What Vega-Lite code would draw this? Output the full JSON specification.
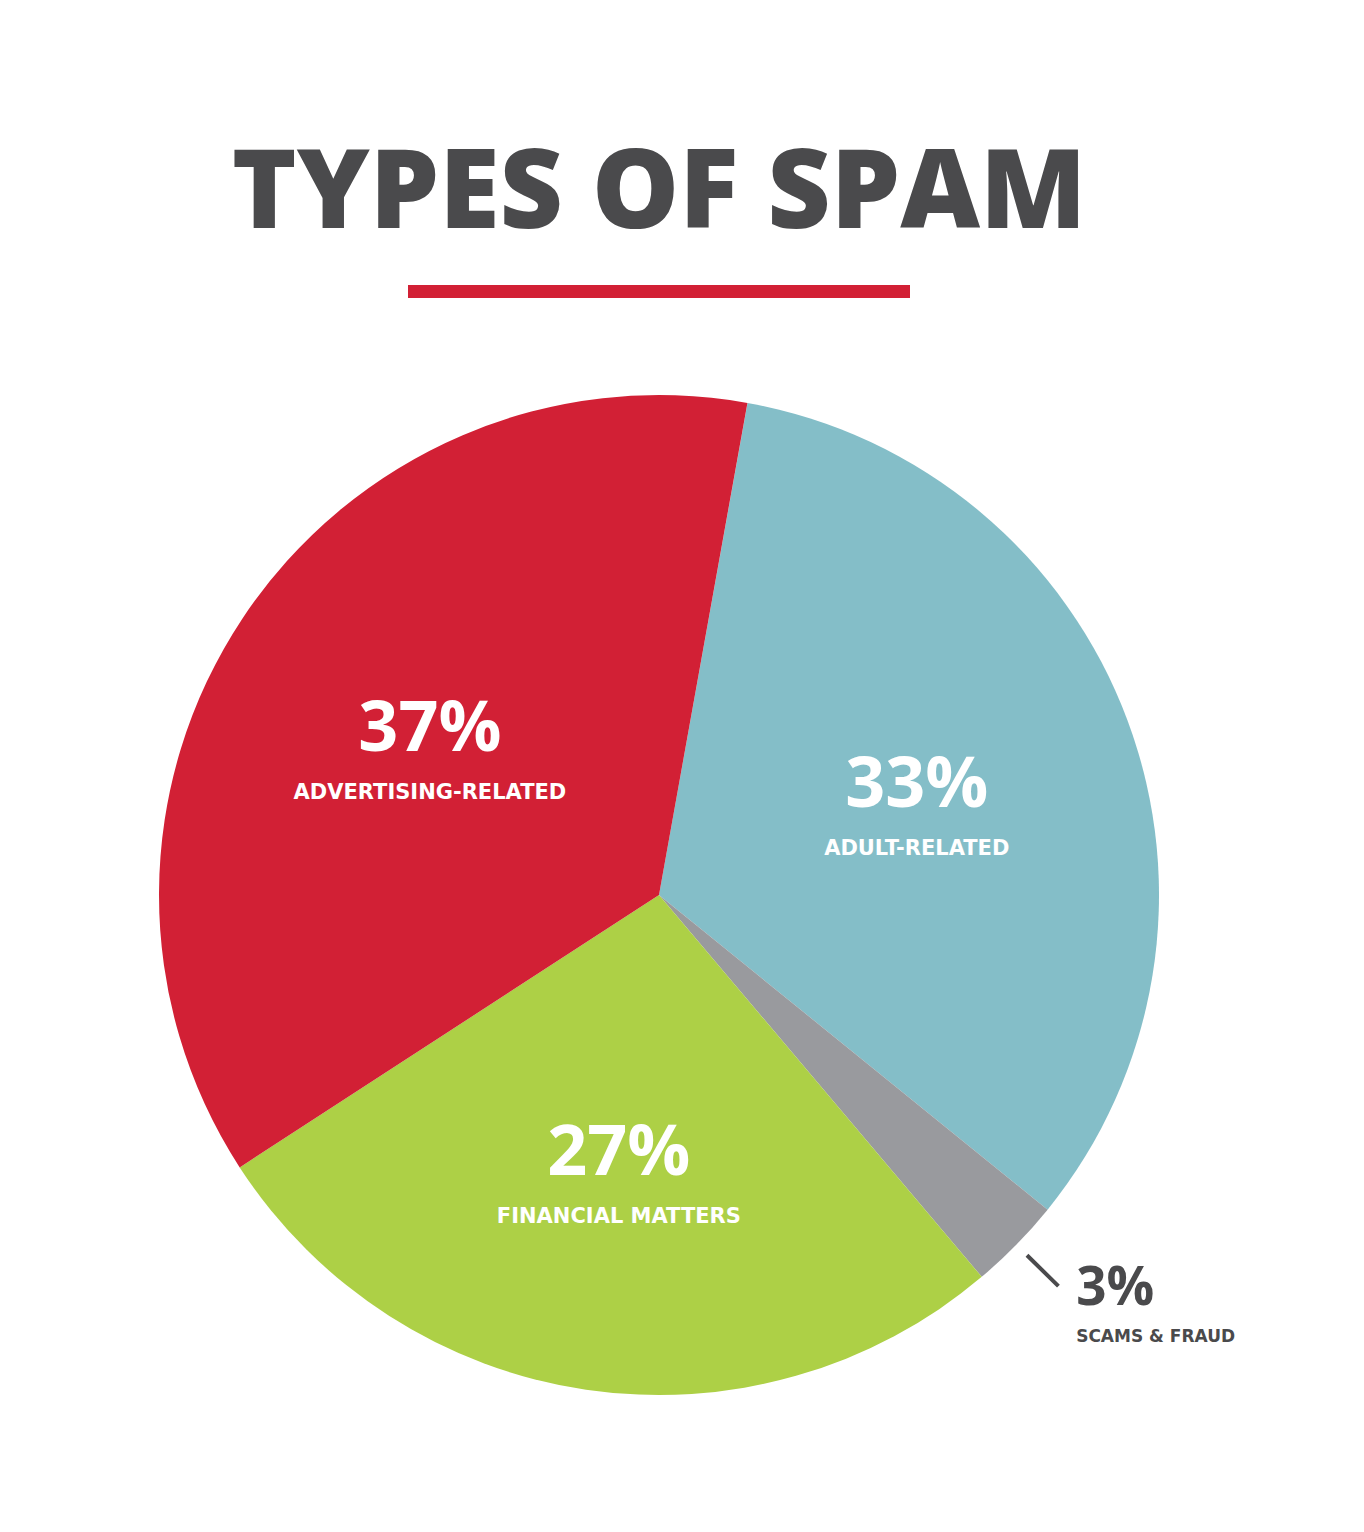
{
  "$schema": "https://vega.github.io/schema/vega-lite/v6.json",
  "width": 1318,
  "height": 1276,
  "padding": {"left": 0, "top": 140, "right": 46, "bottom": 0},
  "background": "white",
  "title": {
    "text": "TYPES OF SPAM",
    "font": "Open Sans",
    "fontSize": 110,
    "fontWeight": 800,
    "color": "#4a4a4c",
    "anchor": "middle",
    "offset": 6
  },
  "config": {"view": {"stroke": null}},
  "data": {
    "values": [
      {"cat": "ADULT-RELATED", "pct": "33%", "value": 33, "ord": 1},
      {"cat": "SCAMS & FRAUD", "pct": "3%", "value": 3, "ord": 2},
      {"cat": "FINANCIAL MATTERS", "pct": "27%", "value": 27, "ord": 3},
      {"cat": "ADVERTISING-RELATED", "pct": "37%", "value": 37, "ord": 4}
    ]
  },
  "layer": [
    {
      "mark": {"type": "arc", "outerRadius": 500},
      "encoding": {
        "theta": {"field": "value", "type": "quantitative", "stack": true, "scale": {"domain": [0, 100], "range": [0.178, 6.461]}},
        "order": {"field": "ord", "type": "quantitative"},
        "detail": {"field": "cat", "type": "nominal"},
        "color": {
          "field": "cat",
          "type": "nominal",
          "scale": {
            "domain": ["ADULT-RELATED", "SCAMS & FRAUD", "FINANCIAL MATTERS", "ADVERTISING-RELATED"],
            "range": ["#84bec8", "#999a9e", "#add046", "#d22035"]
          },
          "legend": null
        }
      }
    },
    {
      "mark": {"type": "text", "radius": 275, "dy": -13, "baseline": "middle", "align": "center", "font": "Open Sans", "fontSize": 70, "fontWeight": "bold", "fill": "white"},
      "encoding": {
        "theta": {"field": "value", "type": "quantitative", "stack": true},
        "order": {"field": "ord", "type": "quantitative"},
        "detail": {"field": "cat", "type": "nominal"},
        "text": {"condition": {"test": "datum.cat === 'SCAMS & FRAUD'", "value": ""}, "field": "pct", "type": "nominal"}
      }
    },
    {
      "mark": {"type": "text", "radius": 275, "dy": 50, "baseline": "middle", "align": "center", "font": "DejaVu Sans", "fontSize": 21, "fontWeight": "bold", "fill": "white"},
      "encoding": {
        "theta": {"field": "value", "type": "quantitative", "stack": true},
        "order": {"field": "ord", "type": "quantitative"},
        "detail": {"field": "cat", "type": "nominal"},
        "text": {"condition": {"test": "datum.cat === 'SCAMS & FRAUD'", "value": ""}, "field": "cat", "type": "nominal"}
      }
    },
    {
      "mark": {"type": "text", "radius": 574, "dx": 7, "dy": -8, "baseline": "middle", "align": "left", "font": "Open Sans", "fontSize": 53, "fontWeight": "bold", "fill": "#4a4a4c"},
      "encoding": {
        "theta": {"field": "value", "type": "quantitative", "stack": true},
        "order": {"field": "ord", "type": "quantitative"},
        "detail": {"field": "cat", "type": "nominal"},
        "text": {"condition": {"test": "datum.cat === 'SCAMS & FRAUD'", "field": "pct", "type": "nominal"}, "value": ""}
      }
    },
    {
      "mark": {"type": "text", "radius": 574, "dx": 7, "dy": 40, "baseline": "middle", "align": "left", "font": "DejaVu Sans", "fontSize": 17, "fontWeight": "bold", "fill": "#4a4a4c"},
      "encoding": {
        "theta": {"field": "value", "type": "quantitative", "stack": true},
        "order": {"field": "ord", "type": "quantitative"},
        "detail": {"field": "cat", "type": "nominal"},
        "text": {"condition": {"test": "datum.cat === 'SCAMS & FRAUD'", "field": "cat", "type": "nominal"}, "value": ""}
      }
    },
    {
      "data": {"values": [{}]},
      "mark": {"type": "arc", "outerRadius": 559, "innerRadius": 515, "filled": false, "stroke": "#4a4a4c", "strokeWidth": 4},
      "encoding": {
        "theta": {"datum": 34.5, "type": "quantitative"},
        "theta2": {"datum": 34.5}
      }
    },
    {
      "data": {"values": [{}]},
      "mark": {"type": "rule", "stroke": "#d22035", "strokeWidth": 13},
      "encoding": {
        "x": {"datum": -0.502, "type": "quantitative", "scale": {"domain": [-1.318, 1.318]}, "axis": null},
        "x2": {"datum": 0.502},
        "y": {"datum": 1.207, "type": "quantitative", "scale": {"domain": [-1.276, 1.276]}, "axis": null}
      }
    }
  ]
}
